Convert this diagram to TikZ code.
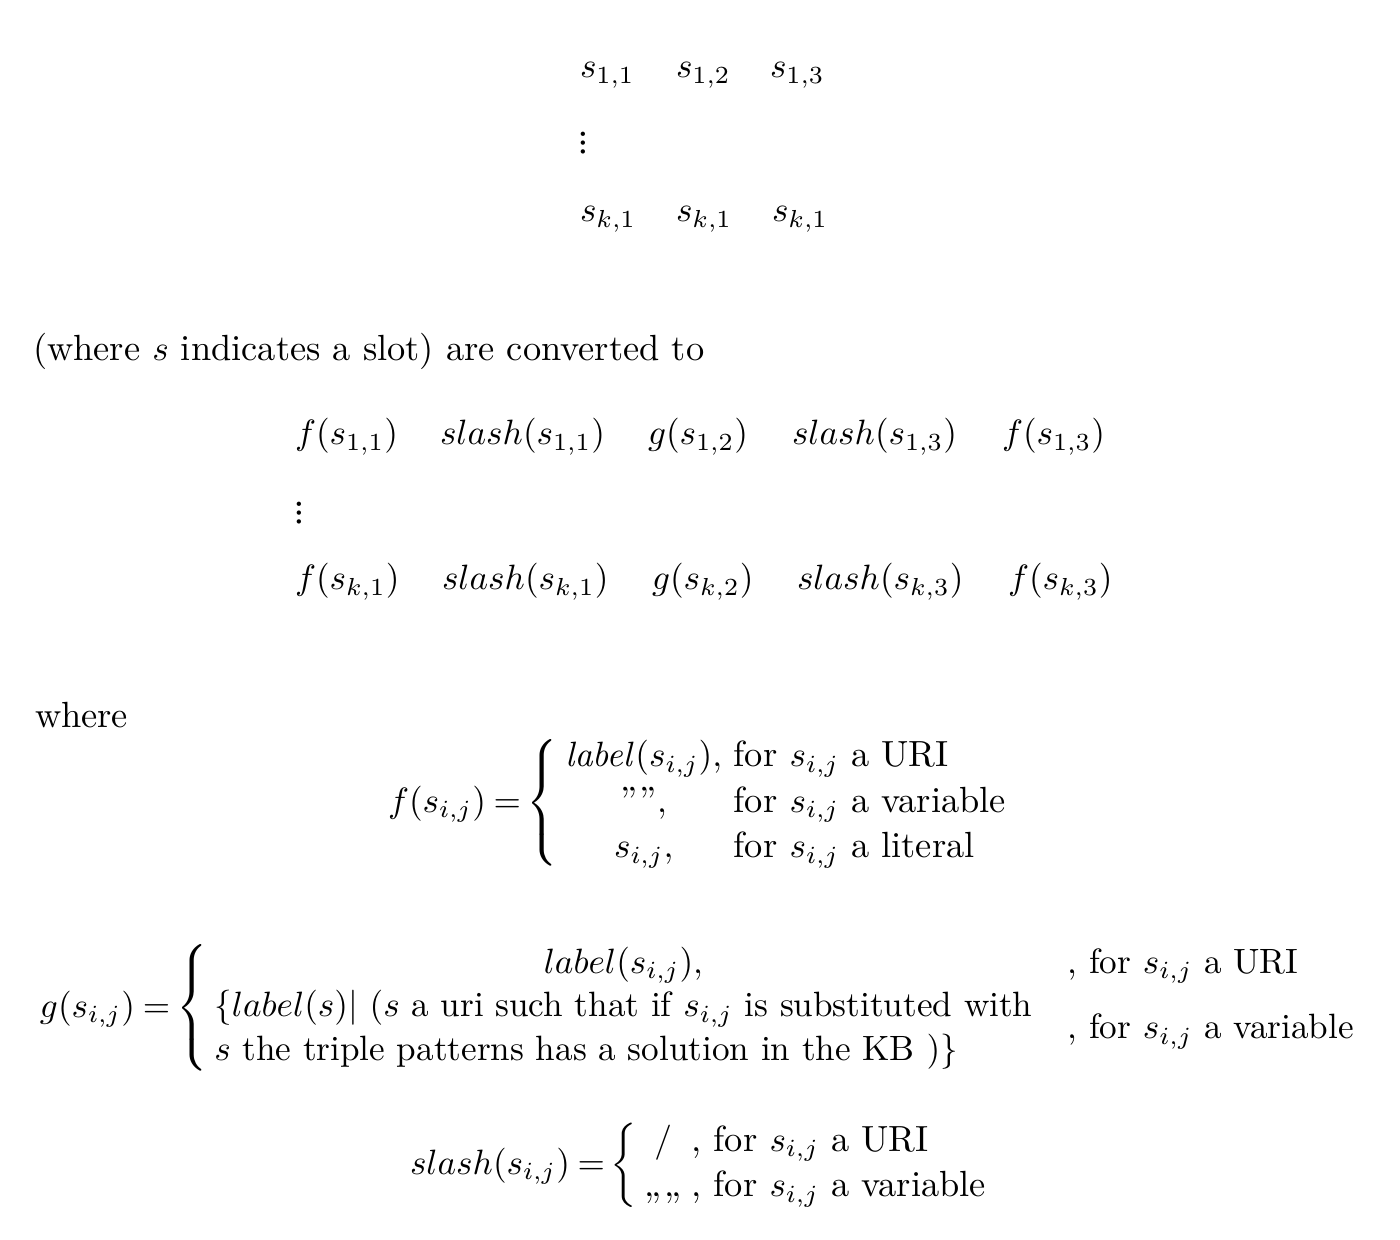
\documentclass[tikz,border=0pt]{standalone}
\usepackage{amsmath}
\newcommand\T[1]{\text{\fontsize{10.35pt}{12pt}\selectfont #1}}
\newcommand\eqq{\mkern4mu{=}}
\begin{document}
\begin{tikzpicture}[x=0.01cm,y=-0.01cm,
  txt/.style={inner sep=0pt, outer sep=0pt, anchor=base west},
  bigtxt/.style={txt, font=\fontsize{10.35pt}{12pt}\selectfont},
  vdotsnode/.style={inner sep=0pt, outer sep=0pt, anchor=center, rotate=90,
    font=\fontsize{15pt}{15pt}\selectfont}]
\useasboundingbox (0,0) rectangle (1400,1240);
% top matrix
\node[txt] (a11) at (580,78) {$s_{1,1}$};
\node[txt] (a12) at (676,78) {$s_{1,2}$};
\node[txt] (a13) at (770,78) {$s_{1,3}$};
\node[vdotsnode] (av) at (583,143.5) {…};
\node[txt] (ak1) at (580,222) {$s_{k,1}$};
\node[txt] (ak2) at (676,222) {$s_{k,1}$};
\node[txt] (ak3) at (772,222) {$s_{k,1}$};
% sentence
\node[bigtxt] (sent) at (33,361) {(where $s$ indicates a slot) are converted to};
% converted rows
\node[txt] (b11) at (295,445) {$f(s_{1,1})$};
\node[txt] (b12) at (440,445) {$slash(s_{1,1})$};
\node[txt] (b13) at (648,445) {$g(s_{1,2})$};
\node[txt] (b14) at (792,445) {$slash(s_{1,3})$};
\node[txt] (b15) at (1002,445) {$f(s_{1,3})$};
\node[vdotsnode] (bv) at (299,513.5) {…};
\node[txt] (bk1) at (295,590) {$f(s_{k,1})$};
\node[txt] (bk2) at (442,590) {$slash(s_{k,1})$};
\node[txt] (bk3) at (652,590) {$g(s_{k,2})$};
\node[txt] (bk4) at (797,590) {$slash(s_{k,3})$};
\node[txt] (bk5) at (1008,590) {$f(s_{k,3})$};
% where
\node[bigtxt] (where) at (35,728) {where};
% f definition
\node[txt] (fdef) at (388,812) {\renewcommand\arraystretch{1.08}$f(s_{i,j})\eqq\left\{\begin{array}{@{\hspace{2pt}}c@{\ }l}
  \mathit{label}(s_{i,j}), & \T{for } s_{i,j} \T{ a URI}\\
  \T{''''}, & \T{for } s_{i,j} \T{ a variable}\\
  s_{i,j}, & \T{for } s_{i,j} \T{ a literal}
  \end{array}\right.$};
% g definition
\node[txt] (gdef) at (40,1017) {\renewcommand\arraystretch{1.03}$g(s_{i,j})\eqq\left\{\begin{array}{@{\hspace{2pt}}cl}
  label(s_{i,j}), & \text{, for } s_{i,j} \text{ a URI}\\
  \begin{array}{@{}l@{}}
  \{label(s)|\ (s \text{ a uri such that if } s_{i,j} \text{ is substituted with}\\
  s \text{ the triple patterns has a solution in the KB })\}
  \end{array} & \text{, for } s_{i,j} \text{ a variable}
  \end{array}\right.$};
% slash definition
\node[txt] (sdef) at (410,1174) {\renewcommand\arraystretch{1.07}$slash(s_{i,j})\eqq\left\{\begin{array}{@{\hspace{2pt}}c@{\;}l}
  / & \T{, for } s_{i,j} \T{ a URI}\\
  \T{„„} & \T{, for } s_{i,j} \T{ a variable}
  \end{array}\right.$};
\end{tikzpicture}
\end{document}
